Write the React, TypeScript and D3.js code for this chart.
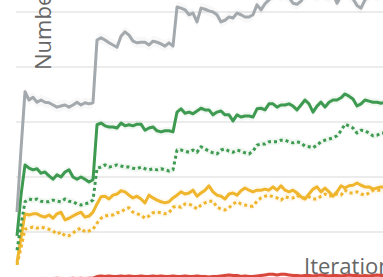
import React, { useEffect, useRef } from 'react';
import * as d3 from 'd3';

// values per iteration
const gray = [136, 250, 355, 340, 345, 336, 340, 336, 335, 331, 327, 329, 331, 327, 331, 336, 331, 335, 333, 335,
  449, 453, 449, 444, 440, 436, 456, 464, 458, 447, 444, 445, 445, 440, 447, 445, 442, 438, 444, 438,
  509, 507, 504, 495, 498, 482, 507, 505, 502, 500, 495, 482, 485, 491, 489, 498, 495, 491, 491, 495,
  513, 504, 515, 522, 530, 534, 528, 532, 526, 516, 514, 520, 530, 536, 532, 528, 534, 530, 527, 533,
  516, 529, 535, 531, 524, 512, 507, 522, 530, 534, 528, 532, 530];

const greenSolid = [93, 167, 222, 216, 213, 215, 207, 209, 202, 196, 204, 200, 209, 213, 200, 196, 200, 196, 191, 195,
  295, 298, 293, 291, 291, 289, 298, 293, 295, 293, 296, 296, 285, 289, 291, 284, 282, 284, 284, 282,
  318, 324, 316, 318, 315, 320, 325, 322, 322, 313, 318, 320, 313, 313, 302, 313, 309, 311, 311, 309,
  324, 325, 322, 333, 333, 327, 331, 331, 333, 329, 322, 331, 340, 333, 318, 329, 336, 327, 336, 340,
  340, 344, 351, 347, 342, 329, 333, 340, 338, 336, 336, 334, 336];

const greenDotted = [67, 113, 155, 160, 158, 160, 156, 155, 155, 158, 156, 155, 160, 156, 155, 151, 149, 151, 153, 158,
  216, 218, 222, 218, 220, 222, 220, 218, 218, 216, 215, 218, 215, 213, 215, 213, 215, 213, 211, 213,
  249, 249, 247, 245, 249, 245, 255, 251, 247, 244, 242, 249, 251, 247, 245, 249, 247, 244, 242, 247,
  258, 260, 260, 264, 264, 264, 267, 267, 264, 262, 264, 262, 256, 255, 253, 258, 264, 267, 269, 271,
  275, 284, 296, 293, 289, 280, 285, 284, 280, 275, 276, 280, 280];

const yellowSolid = [44, 90, 133, 131, 133, 133, 129, 127, 131, 125, 133, 136, 122, 125, 129, 133, 136, 127, 129, 136,
  151, 164, 165, 160, 167, 169, 175, 173, 167, 162, 165, 160, 153, 167, 162, 158, 155, 153, 155, 162,
  167, 173, 169, 171, 176, 165, 171, 176, 184, 173, 167, 165, 160, 169, 171, 167, 175, 180, 176, 173,
  176, 176, 178, 176, 182, 176, 184, 176, 173, 176, 171, 164, 160, 169, 178, 182, 173, 180, 173, 165,
  173, 184, 180, 184, 185, 189, 185, 182, 182, 178, 180, 182, 182];

const yellowDotted = [40, 71, 105, 107, 109, 107, 109, 107, 105, 102, 96, 100, 93, 93, 98, 104, 107, 100, 102, 105,
  116, 125, 129, 131, 131, 135, 136, 142, 144, 136, 133, 131, 125, 129, 135, 136, 135, 133, 135, 145,
  147, 145, 151, 151, 147, 142, 149, 153, 156, 156, 145, 142, 140, 144, 151, 155, 151, 149, 147, 147,
  156, 162, 165, 167, 164, 162, 158, 164, 162, 162, 167, 162, 162, 164, 160, 160, 165, 169, 165, 167,
  169, 167, 176, 171, 171, 173, 169, 167, 171, 176, 176, 176, 176];

const red = [3, 5, 7, 9, 11, 13, 14, 15, 14, 15, 16, 15, 14, 15, 16, 15, 16, 15, 16, 16,
  19, 20, 19, 20, 19, 19, 20, 19, 20, 19, 19, 20, 19, 19, 20, 19, 20, 19, 19, 20,
  19, 19, 20, 19, 19, 20, 19, 19, 18, 19, 19, 20, 21, 22, 21, 21, 19, 20, 19, 19,
  20, 21, 22, 23, 23, 22, 23, 23, 22, 21, 21, 20, 21, 21, 20, 21, 22, 21, 20, 21,
  21, 20, 21, 22, 21, 21, 20, 21, 20, 21, 22, 21, 21];

// half-width of the shaded band around each line
const spread = { gray: 10, greenSolid: 7, greenDotted: 6, yellowSolid: 7, yellowDotted: 6, red: 4 };

const yTicks = [0, 100, 200, 300, 400, 500];

const series = [
  { key: 'red', values: red, color: '#d8463c', dotted: false },
  { key: 'yellowDotted', values: yellowDotted, color: '#efb52d', dotted: true },
  { key: 'yellowSolid', values: yellowSolid, color: '#efb52d', dotted: false },
  { key: 'greenDotted', values: greenDotted, color: '#3d9a50', dotted: true },
  { key: 'greenSolid', values: greenSolid, color: '#3d9a50', dotted: false },
  { key: 'gray', values: gray, color: '#a3a9ad', dotted: false },
];

const width = 383;
const height = 277;

const App = () => {
  const ref = useRef<SVGSVGElement | null>(null);

  useEffect(() => {
    const svg = d3.select(ref.current);
    svg.selectAll('*').remove();

    const n = gray.length;
    const x = d3.scaleLinear().domain([0, n - 1]).range([17, 17 + (n - 1) * 4]);
    const y = d3.scaleLinear().domain([0, 500]).range([287, 12]);

    // gridlines
    svg.append('g')
      .selectAll('line')
      .data(yTicks)
      .enter()
      .append('line')
      .attr('x1', 16)
      .attr('x2', width)
      .attr('y1', d => y(d))
      .attr('y2', d => y(d))
      .attr('stroke', '#e6e6e6')
      .attr('stroke-width', 1.5);

    // bands
    series.forEach(s => {
      const sd = spread[s.key];
      const area = d3.area<number>()
        .x((_, i) => x(i))
        .y0(d => y(d - sd))
        .y1(d => y(d + sd));
      svg.append('path')
        .attr('d', area(s.values))
        .attr('fill', s.color)
        .attr('fill-opacity', 0.08);
    });

    // lines
    const line = d3.line<number>()
      .x((_, i) => x(i))
      .y(d => y(d));

    series.forEach(s => {
      svg.append('path')
        .attr('d', line(s.values))
        .attr('fill', 'none')
        .attr('stroke', s.color)
        .attr('stroke-width', 3)
        .attr('stroke-linejoin', 'round')
        .attr('stroke-dasharray', s.dotted ? '3,3' : null);
    });

    // axis titles
    svg.append('text')
      .attr('transform', 'translate(50.5, 70) rotate(-90)')
      .attr('font-family', '"Open Sans", sans-serif')
      .attr('font-size', 22)
      .attr('fill', '#666')
      .text('Number');

    svg.append('text')
      .attr('x', 304)
      .attr('y', 274)
      .attr('font-family', '"Open Sans", sans-serif')
      .attr('font-size', 22)
      .attr('fill', '#666')
      .text('Iteration');
  }, []);

  return (
    <svg
      ref={ref}
      width={width}
      height={height}
      style={{ position: 'absolute', left: 0, top: 0, background: '#fff' }}
    />
  );
};

export default App;
